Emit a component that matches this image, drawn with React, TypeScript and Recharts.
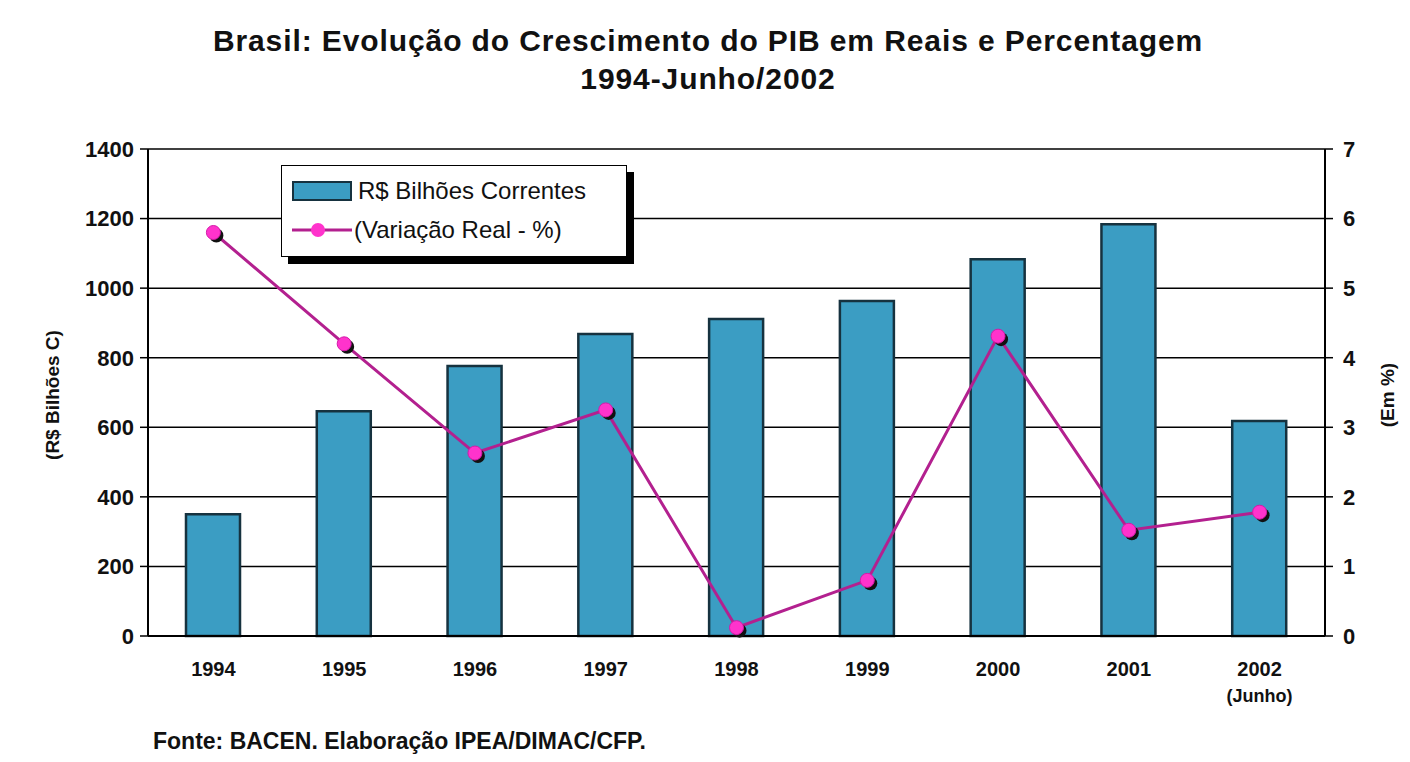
import {ComposedChart, CartesianGrid, XAxis, YAxis, Bar, Line, Legend} from "recharts";

const years = ["1994", "1995", "1996", "1997", "1998", "1999", "2000", "2001", "2002"];
const gdpBillions = [350, 646, 776, 868, 911, 963, 1083, 1184, 618];
const realGrowth = [5.8, 4.2, 2.63, 3.25, 0.12, 0.8, 4.31, 1.52, 1.78];
const leftTicks = [0, 200, 400, 600, 800, 1000, 1200, 1400];
const rightTicks = [0, 1, 2, 3, 4, 5, 6, 7];

const data = years.map((year, i) => ({year, gdp: gdpBillions[i], growth: realGrowth[i]}));

const font = "'Liberation Sans', Arial, sans-serif";
const barFill = "#3b9dc3";
const barStroke = "#16323f";
const lineColor = "#b3208f";
const dotColor = "#ff33cc";

const YearTick = ({x, y, payload}: any) => (
  <text x={x} y={y + 32} textAnchor='middle' fontFamily={font} fontSize={20} fontWeight={700} fill='#111'>
    {payload.value}
    {payload.value === "2002" && (
      <tspan x={x} dy={26} fontSize={18}>
        (Junho)
      </tspan>
    )}
  </text>
);

const GrowthDot = ({cx, cy, index}: any) => (
  <g key={`dot-${index}`}>
    <circle cx={cx + 3} cy={cy + 3} r={7} fill='#111' />
    <circle cx={cx} cy={cy} r={7} fill={dotColor} stroke='#d41aa9' strokeWidth={1} />
  </g>
);

const ChartLegend = () => (
  <div
    style={{
      background: "#fff",
      border: "1.5px solid #000",
      boxShadow: "7px 7px 0 #000",
      width: 346,
      height: 92,
      fontFamily: font,
      fontSize: 24,
      color: "#111",
      boxSizing: "border-box",
      padding: "6px 0 0 10px",
    }}
  >
    <div style={{display: "flex", alignItems: "center", height: 38}}>
      <span style={{width: 56, height: 16, background: barFill, border: `2px solid ${barStroke}`, marginRight: 6}} />
      R$ Bilhões Correntes
    </div>
    <div style={{display: "flex", alignItems: "center", height: 40}}>
      <svg width={60} height={20} style={{marginRight: 2}}>
        <line x1={0} y1={10} x2={60} y2={10} stroke={lineColor} strokeWidth={3} />
        <circle cx={26} cy={10} r={7} fill={dotColor} />
      </svg>
      (Variação Real - %)
    </div>
  </div>
);

const App = () => {
  return (
    <div style={{position: "relative", width: 1410, height: 762, margin: "-8px 0 0 -8px", background: "#fff", borderLeft: "3px solid #333", boxSizing: "border-box", overflow: "hidden"}}>
      <div style={{position: "absolute", top: 22, left: 0, width: 1410, textAlign: "center", fontFamily: font, fontWeight: 700, fontSize: 30, letterSpacing: 0.9, lineHeight: "38px", color: "#111"}}>
        Brasil: Evolução do Crescimento do PIB em Reais e Percentagem
        <br />
        1994-Junho/2002
      </div>
      <ComposedChart width={1407} height={762} data={data} margin={{top: 149, right: 0, bottom: 56, left: -3}} style={{position: "absolute", top: 0, left: 0}}>
        <CartesianGrid vertical={false} stroke='#000' strokeWidth={1.5} yAxisId='left' />
        <XAxis dataKey='year' height={70} tick={<YearTick />} tickLine={false} axisLine={{stroke: "#000", strokeWidth: 2}} />
        <YAxis
          yAxisId='left'
          orientation='left'
          width={148}
          domain={[0, 1400]}
          ticks={leftTicks}
          tickSize={8}
          tickMargin={6}
          tick={{fontFamily: font, fontSize: 22, fontWeight: 700, fill: "#111"}}
          axisLine={{stroke: "#000", strokeWidth: 2}}
          tickLine={{stroke: "#000", strokeWidth: 1.5}}
        />
        <YAxis
          yAxisId='right'
          orientation='right'
          width={85}
          domain={[0, 7]}
          ticks={rightTicks}
          tickSize={8}
          tickMargin={10}
          tick={{fontFamily: font, fontSize: 22, fontWeight: 700, fill: "#111"}}
          axisLine={{stroke: "#000", strokeWidth: 2}}
          tickLine={{stroke: "#000", strokeWidth: 1.5}}
        />
        <Legend
          layout='horizontal'
          verticalAlign='middle'
          align='center'
          content={<ChartLegend />}
          wrapperStyle={{position: "absolute", left: 278, top: 165, width: "auto", height: "auto"}}
        />
        <Bar yAxisId='left' dataKey='gdp' name='R$ Bilhões Correntes' barSize={54} fill={barFill} stroke={barStroke} strokeWidth={2.5} isAnimationActive={false} />
        <Line
          yAxisId='right'
          dataKey='growth'
          name='(Variação Real - %)'
          type='linear'
          stroke={lineColor}
          strokeWidth={3}
          dot={<GrowthDot />}
          activeDot={false}
          isAnimationActive={false}
        />
      </ComposedChart>
      <div style={{position: "absolute", left: 50, top: 395, transform: "translate(-50%, -50%) rotate(-90deg)", fontFamily: font, fontWeight: 700, fontSize: 19, whiteSpace: "nowrap", color: "#111"}}>
        (R$ Bilhões C)
      </div>
      <div style={{position: "absolute", left: 1385, top: 395, transform: "translate(-50%, -50%) rotate(-90deg)", fontFamily: font, fontWeight: 700, fontSize: 19, whiteSpace: "nowrap", color: "#111"}}>
        (Em %)
      </div>
      <div style={{position: "absolute", left: 150, top: 728, fontFamily: font, fontWeight: 700, fontSize: 23, color: "#111", whiteSpace: "nowrap"}}>
        Fonte: BACEN. Elaboração IPEA/DIMAC/CFP.
      </div>
    </div>
  );
};

export default App;
